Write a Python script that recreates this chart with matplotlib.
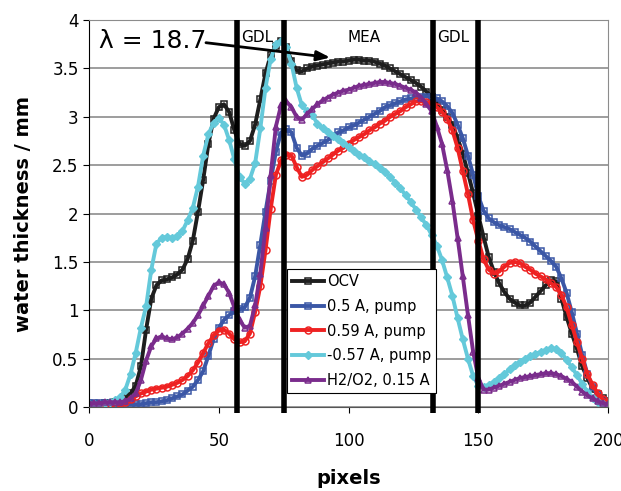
import matplotlib
matplotlib.use("Agg")
import matplotlib.pyplot as plt
import numpy as np

# pixel positions along the cell (every 2 pixels)
px = np.arange(0, 201, 2)

ocv = [0.03, 0.03, 0.03, 0.04, 0.04, 0.05, 0.06, 0.09, 0.14, 0.22,
       0.42, 0.80, 1.12, 1.26, 1.31, 1.32, 1.34, 1.37, 1.42, 1.53,
       1.72, 2.02, 2.35, 2.72, 2.98, 3.10, 3.13, 3.05, 2.86, 2.72,
       2.70, 2.75, 2.92, 3.18, 3.45, 3.64, 3.73, 3.78, 3.72, 3.58,
       3.48, 3.47, 3.50, 3.52, 3.53, 3.54, 3.55, 3.56, 3.57, 3.57,
       3.58, 3.59, 3.59, 3.58, 3.58, 3.57, 3.55, 3.53, 3.50, 3.47,
       3.44, 3.41, 3.38, 3.35, 3.31, 3.26, 3.21, 3.15, 3.07, 3.00,
       2.92, 2.78, 2.62, 2.42, 2.21, 1.98, 1.76, 1.55, 1.40, 1.28,
       1.19, 1.12, 1.08, 1.05, 1.05, 1.08, 1.14, 1.20, 1.26, 1.31,
       1.30, 1.12, 0.93, 0.76, 0.60, 0.42, 0.30, 0.19, 0.13, 0.09,
       0.06]

pump_05 = [0.04, 0.04, 0.04, 0.04, 0.03, 0.03, 0.03, 0.03, 0.03, 0.03,
           0.03, 0.04, 0.05, 0.05, 0.06, 0.07, 0.09, 0.11, 0.13, 0.17,
           0.21, 0.28, 0.37, 0.53, 0.70, 0.82, 0.90, 0.95, 0.99, 1.01,
           1.03, 1.13, 1.35, 1.68, 2.02, 2.34, 2.64, 2.84, 2.87, 2.84,
           2.68, 2.60, 2.62, 2.67, 2.70, 2.73, 2.76, 2.80, 2.84, 2.86,
           2.89, 2.91, 2.94, 2.97, 3.00, 3.03, 3.06, 3.10, 3.12, 3.14,
           3.16, 3.18, 3.19, 3.20, 3.21, 3.21, 3.21, 3.19, 3.16, 3.11,
           3.04, 2.92, 2.78, 2.60, 2.40, 2.18, 2.03, 1.95, 1.91, 1.88,
           1.86, 1.84, 1.81, 1.78, 1.75, 1.71, 1.66, 1.61, 1.56, 1.51,
           1.45, 1.33, 1.18, 0.98, 0.76, 0.54, 0.34, 0.21, 0.12, 0.07,
           0.04]

pump_059 = [0.02, 0.02, 0.02, 0.02, 0.02, 0.03, 0.04, 0.05, 0.08, 0.11,
            0.14, 0.16, 0.18, 0.19, 0.20, 0.21, 0.23, 0.25, 0.28, 0.32,
            0.38, 0.46, 0.56, 0.66, 0.74, 0.79, 0.80, 0.76, 0.70, 0.67,
            0.68, 0.76, 0.98, 1.25, 1.62, 2.05, 2.40, 2.55, 2.61, 2.60,
            2.48, 2.38, 2.40, 2.45, 2.49, 2.53, 2.57, 2.61, 2.65, 2.68,
            2.72, 2.76, 2.79, 2.82, 2.86, 2.89, 2.93, 2.96, 3.00, 3.03,
            3.06, 3.10, 3.13, 3.16, 3.16, 3.15, 3.13, 3.10, 3.05, 2.98,
            2.86, 2.68, 2.44, 2.20, 1.93, 1.72, 1.53, 1.42, 1.38, 1.40,
            1.45, 1.49, 1.50, 1.49, 1.45, 1.42, 1.38, 1.35, 1.32, 1.28,
            1.24, 1.16, 1.03, 0.85, 0.67, 0.50, 0.34, 0.23, 0.14, 0.08,
            0.05]

pump_neg = [0.03, 0.03, 0.03, 0.04, 0.05, 0.07, 0.10, 0.18, 0.34, 0.56,
            0.82, 1.04, 1.42, 1.69, 1.75, 1.76, 1.75, 1.77, 1.82, 1.93,
            2.06, 2.28, 2.60, 2.82, 2.94, 2.99, 2.92, 2.76, 2.56, 2.38,
            2.31, 2.36, 2.52, 2.88, 3.30, 3.60, 3.75, 3.78, 3.72, 3.55,
            3.30, 3.12, 3.06, 3.02, 2.93, 2.88, 2.84, 2.80, 2.77, 2.73,
            2.69, 2.65, 2.61, 2.58, 2.54, 2.51, 2.47, 2.43, 2.38, 2.32,
            2.26, 2.19, 2.12, 2.04, 1.96, 1.88, 1.78, 1.67, 1.52, 1.34,
            1.15, 0.92, 0.70, 0.50, 0.32, 0.22, 0.21, 0.23, 0.26, 0.30,
            0.34, 0.39, 0.43, 0.47, 0.50, 0.53, 0.55, 0.57, 0.59, 0.61,
            0.60, 0.56, 0.49, 0.41, 0.33, 0.24, 0.16, 0.09, 0.05, 0.03,
            0.02]

h2o2 = [0.04, 0.04, 0.04, 0.05, 0.05, 0.05, 0.05, 0.06, 0.09, 0.14,
        0.28, 0.48, 0.63, 0.71, 0.73, 0.71, 0.70, 0.72, 0.76, 0.81,
        0.87, 0.95, 1.05, 1.15, 1.25, 1.29, 1.27, 1.18, 1.03, 0.90,
        0.82, 0.84, 1.05, 1.38, 1.85, 2.40, 2.90, 3.12, 3.16, 3.10,
        3.00, 2.97, 3.03, 3.08, 3.13, 3.17, 3.20, 3.23, 3.25, 3.27,
        3.28, 3.30, 3.32, 3.33, 3.34, 3.35, 3.36, 3.36, 3.35, 3.34,
        3.32, 3.30, 3.28, 3.25, 3.20, 3.13, 3.06, 2.90, 2.72, 2.45,
        2.13, 1.75, 1.35, 0.95, 0.57, 0.30, 0.18, 0.18, 0.20, 0.22,
        0.24, 0.26, 0.28, 0.30, 0.31, 0.32, 0.33, 0.34, 0.35, 0.35,
        0.34, 0.32, 0.29, 0.26, 0.21, 0.16, 0.12, 0.09, 0.06, 0.04,
        0.03]

labels = ["OCV", "0.5 A, pump", "0.59 A, pump", "-0.57 A, pump", "H2/O2, 0.15 A"]
boundaries = [57, 75, 132.5, 150]

fig = plt.figure(figsize=(6.21, 4.91), dpi=100)
ax = fig.add_axes([0.1433, 0.171, 0.836, 0.788])

ax.grid(axis='y', color='#8c8c8c', lw=1.2)
ax.set_axisbelow(True)

ms = 5
lw = 2.8
ax.plot(px, ocv, color='#1e1e1e', lw=lw, marker='s', ms=ms, mfc='none', mew=1.1, label=labels[0])
ax.plot(px, pump_05, color='#3b57a6', lw=lw, marker='s', ms=ms, mfc='none', mew=1.1, label=labels[1])
ax.plot(px, pump_059, color='#ee2222', lw=lw, marker='o', ms=ms, mfc='none', mew=1.1, label=labels[2])
ax.plot(px, pump_neg, color='#64c9da', lw=lw, marker='D', ms=3.8, mew=1, label=labels[3])
ax.plot(px, h2o2, color='#7a2c8c', lw=lw, marker='^', ms=ms, mfc='none', mew=1.1, label=labels[4])

for b in boundaries:
    ax.vlines(b, -0.06, 4, color='black', lw=4, zorder=5, clip_on=False)

ax.text(58.8, 3.82, "GDL", fontsize=11, va='center', zorder=6)
ax.text(106, 3.82, "MEA", fontsize=11, va='center', ha='center', zorder=6)
ax.text(134, 3.82, "GDL", fontsize=11, va='center', zorder=6)
ax.text(4, 3.78, "λ = 18.7", fontsize=18, va='center', zorder=6)
ax.annotate("", xy=(94, 3.61), xytext=(44, 3.77),
            arrowprops=dict(arrowstyle='-|>,head_width=0.3,head_length=0.8',
                            color='black', lw=2), zorder=7)

ax.set_xlim(0, 200)
ax.set_ylim(0, 4)
ax.set_xticks([0, 50, 100, 150, 200])
ax.set_yticks(np.arange(0, 4.01, 0.5))
ax.set_yticklabels(["0", "0.5", "1", "1.5", "2", "2.5", "3", "3.5", "4"])
ax.tick_params(axis='both', labelsize=12, direction='out', length=4)
ax.tick_params(axis='x', pad=14)
for s in ['top', 'right']:
    ax.spines[s].set_color('#8c8c8c')
ax.spines['left'].set_color('black')
ax.spines['bottom'].set_color('#555555')

ax.set_xlabel("pixels", fontsize=14, fontweight='bold', labelpad=14)
ax.set_ylabel("water thickness / mm", fontsize=14, fontweight='bold', labelpad=14)

leg = ax.legend(loc='lower left', bbox_to_anchor=(0.381, 0.035), fontsize=10.5,
                frameon=True, fancybox=False, edgecolor='black', framealpha=1,
                handlelength=2.2, handletextpad=0.2, labelspacing=0.68,
                borderpad=0.35, borderaxespad=0)
leg.get_frame().set_linewidth(0.8)
leg.set_zorder(8)

fig.savefig("out.png", dpi=100)
